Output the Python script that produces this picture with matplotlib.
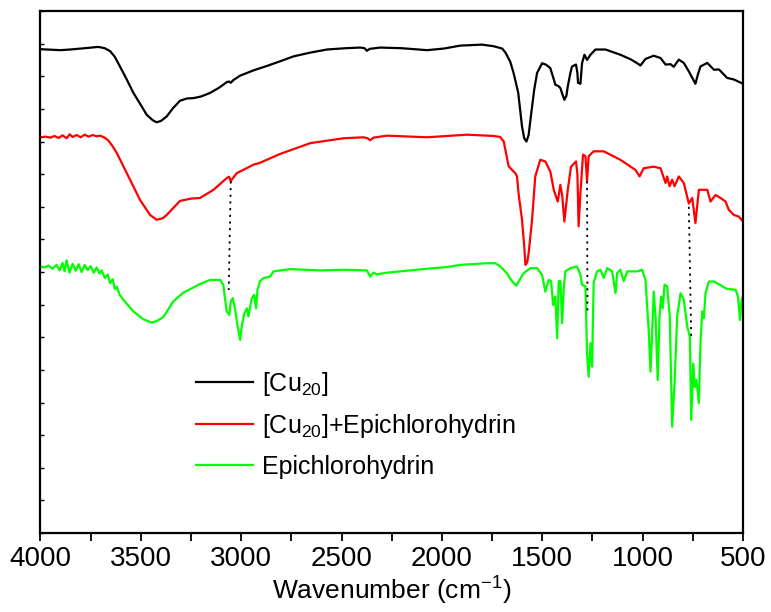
import matplotlib
matplotlib.use('AGG')
import matplotlib.pyplot as plt
from matplotlib.ticker import MultipleLocator

# FTIR spectra, offset transmittance (a.u.)
black_wn = [4000, 3900, 3853, 3780, 3712, 3680, 3653, 3630, 3604, 3570, 3537, 3500, 3471, 3440, 3421, 3400,
            3371, 3340, 3305, 3270, 3238, 3200, 3155, 3110, 3072, 3060, 3052, 3040, 3005, 2939, 2870, 2806,
            2739, 2660, 2573, 2480, 2407, 2385, 2374, 2360, 2307, 2200, 2074, 1990, 1908, 1800, 1742, 1700,
            1684, 1660, 1643, 1620, 1601, 1590, 1579, 1568, 1559, 1540, 1526, 1501, 1480, 1460, 1445, 1435,
            1420, 1410, 1400, 1390, 1380, 1373, 1360, 1352, 1332, 1325, 1322, 1310, 1302, 1290, 1277, 1260,
            1235, 1185, 1111, 1060, 1027, 1011, 986, 945, 911, 886, 861, 845, 820, 795, 770, 750, 737, 725,
            712, 678, 645, 620, 579, 545, 500]
black_t = [14.83, 14.80, 14.82, 14.86, 14.90, 14.86, 14.77, 14.60, 14.30, 13.90, 13.49, 13.12, 12.82, 12.65,
           12.59, 12.63, 12.77, 13.02, 13.25, 13.32, 13.33, 13.38, 13.49, 13.65, 13.82, 13.84, 13.80, 13.88,
           14.02, 14.18, 14.32, 14.46, 14.61, 14.72, 14.82, 14.86, 14.88, 14.86, 14.78, 14.84, 14.88, 14.86,
           14.80, 14.85, 14.94, 14.97, 14.92, 14.85, 14.73, 14.45, 14.10, 13.50, 12.46, 12.10, 12.00, 12.20,
           12.67, 13.60, 14.10, 14.40, 14.35, 14.25, 13.95, 13.74, 13.70, 13.64, 13.45, 13.28, 13.40, 13.69,
           14.10, 14.30, 14.36, 14.10, 13.80, 13.77, 14.40, 14.66, 14.50, 14.66, 14.82, 14.82, 14.66, 14.52,
           14.40, 14.33, 14.53, 14.63, 14.56, 14.36, 14.37, 14.29, 14.51, 14.41, 14.15, 13.92, 13.77, 14.05,
           14.30, 14.41, 14.20, 14.21, 13.95, 13.90, 13.77]

red_wn = [4000, 3975, 3950, 3930, 3910, 3890, 3870, 3855, 3840, 3820, 3800, 3780, 3760, 3740, 3720, 3703,
          3680, 3662, 3640, 3620, 3570, 3504, 3454, 3421, 3390, 3371, 3305, 3250, 3205, 3138, 3072, 3060,
          3052, 3045, 3022, 2939, 2906, 2806, 2656, 2490, 2391, 2370, 2357, 2340, 2274, 2074, 1875, 1742,
          1710, 1692, 1668, 1651, 1634, 1626, 1618, 1601, 1590, 1584, 1575, 1568, 1551, 1535, 1510, 1485,
          1460, 1443, 1423, 1410, 1400, 1390, 1373, 1357, 1332, 1325, 1319, 1310, 1297, 1285, 1277, 1269,
          1244, 1194, 1111, 1036, 1015, 995, 945, 911, 886, 878, 866, 853, 841, 820, 795, 770, 753, 737,
          720, 678, 662, 637, 612, 587, 571, 546, 521, 500]
red_t = [12.13, 12.15, 12.12, 12.17, 12.11, 12.19, 12.10, 12.22, 12.14, 12.20, 12.13, 12.21, 12.15, 12.20,
         12.16, 12.18, 12.12, 12.03, 11.85, 11.65, 11.03, 10.21, 9.75, 9.60, 9.65, 9.75, 10.18, 10.25, 10.27,
         10.52, 10.88, 10.92, 10.78, 10.85, 11.03, 11.29, 11.35, 11.62, 11.95, 12.10, 12.13, 12.10, 12.04,
         12.12, 12.18, 12.13, 12.21, 12.17, 12.14, 12.00, 11.25, 11.13, 11.03, 10.93, 10.40, 9.60, 8.80,
         8.22, 8.30, 8.58, 9.60, 10.93, 11.44, 11.39, 11.08, 10.52, 10.16, 10.67, 10.30, 9.55, 10.52, 11.23,
         11.39, 11.00, 9.40, 10.42, 11.60, 11.55, 10.78, 11.55, 11.70, 11.70, 11.44, 11.13, 10.93, 11.18,
         11.23, 11.18, 10.73, 10.93, 10.63, 10.83, 10.63, 10.93, 10.73, 10.10, 10.27, 9.50, 10.52, 10.52,
         10.16, 10.36, 10.27, 10.16, 9.91, 9.75, 9.70, 9.55]

green_wn = [4000, 3980, 3960, 3940, 3920, 3905, 3890, 3880, 3870, 3855, 3840, 3825, 3810, 3795, 3780, 3765,
            3750, 3735, 3720, 3705, 3695, 3680, 3665, 3653, 3640, 3630, 3620, 3605, 3587, 3537, 3487, 3446,
            3420, 3388, 3338, 3288, 3205, 3155, 3105, 3089, 3080, 3072, 3059, 3052, 3042, 3030, 3019, 3005,
            2997, 2985, 2972, 2964, 2947, 2935, 2926, 2919, 2906, 2889, 2872, 2856, 2839, 2806, 2756, 2606,
            2490, 2374, 2357, 2341, 2324, 2274, 2158, 2042, 1975, 1908, 1775, 1734, 1709, 1676, 1660, 1643,
            1629, 1609, 1593, 1575, 1559, 1526, 1501, 1485, 1468, 1456, 1446, 1435, 1426, 1418, 1410, 1401,
            1393, 1385, 1360, 1327, 1310, 1302, 1285, 1277, 1269, 1260, 1252, 1244, 1227, 1210, 1194, 1177,
            1152, 1135, 1127, 1111, 1094, 1077, 1027, 1002, 986, 969, 961, 953, 945, 936, 925, 916, 908, 900,
            891, 878, 865, 853, 841, 828, 811, 795, 778, 765, 758, 748, 740, 732, 720, 712, 703, 695, 687,
            670, 645, 579, 537, 525, 515, 507, 500]
green_t = [8.17, 8.14, 8.20, 8.10, 8.22, 8.05, 8.28, 8.02, 8.36, 7.98, 8.25, 8.04, 8.24, 8.00, 8.22, 8.06,
           8.18, 7.98, 8.14, 7.95, 8.05, 7.82, 7.92, 7.66, 7.78, 7.48, 7.55, 7.30, 7.15, 6.79, 6.55, 6.45,
           6.50, 6.62, 7.10, 7.37, 7.63, 7.76, 7.76, 7.60, 7.15, 6.79, 6.69, 7.10, 7.20, 6.84, 6.38, 5.92,
           6.34, 6.72, 6.89, 6.64, 7.20, 7.30, 6.89, 7.45, 7.72, 7.81, 7.84, 7.86, 8.02, 8.05, 8.09, 8.05,
           8.07, 8.05, 7.86, 7.98, 7.93, 7.98, 8.05, 8.12, 8.15, 8.22, 8.27, 8.27, 8.17, 7.96, 7.80, 7.66,
           7.58, 7.80, 7.96, 8.05, 8.12, 8.12, 7.91, 7.40, 7.76, 7.72, 6.99, 7.25, 5.97, 7.72, 7.72, 6.43,
           7.51, 8.02, 8.12, 8.17, 7.91, 7.61, 7.56, 5.51, 4.79, 5.82, 5.10, 7.67, 8.02, 8.07, 7.82, 8.12,
           8.02, 7.35, 7.97, 8.07, 7.72, 8.02, 8.02, 8.07, 7.76, 6.12, 4.95, 6.12, 7.40, 6.64, 4.69, 6.64,
           7.25, 6.89, 7.61, 7.56, 6.64, 3.26, 4.59, 6.64, 7.35, 7.15, 6.33, 6.02, 3.47, 5.20, 4.48, 4.69,
           3.98, 5.82, 6.79, 6.59, 7.35, 7.71, 7.71, 7.48, 7.46, 7.25, 6.53, 7.15, 7.25]

# dotted guide lines: (wn top, t top, wn bottom, t bottom)
guides = [(3052, 10.78, 3062, 7.45), (1277, 10.78, 1275, 6.74), (770, 10.0, 758, 5.98)]

labels = [r'[Cu$_{\mathregular{20}}$]', r'[Cu$_{\mathregular{20}}$]+Epichlorohydrin', 'Epichlorohydrin']
colors = ['black', 'red', '#00ff00']

plt.rcParams['font.family'] = ['Liberation Sans', 'DejaVu Sans']
plt.rcParams['mathtext.fontset'] = 'custom'
plt.rcParams['mathtext.rm'] = 'Liberation Sans'

fig = plt.figure(figsize=(7.71, 6.12), dpi=100)
ax = fig.add_axes([0.0525, 0.129, 0.9112, 0.853])

for wn, t, lab, c in zip([black_wn, red_wn, green_wn], [black_t, red_t, green_t], labels, colors):
    ax.plot(wn, t, color=c, lw=1.6, label=lab)

for x1, y1, x2, y2 in guides:
    ax.plot([x1, x2], [y1, y2], color='black', lw=1.3, ls=(0, (1.2, 2.5)))

ax.set_xlim(4000, 500)
ax.set_ylim(0, 16)
ax.xaxis.set_major_locator(MultipleLocator(500))
ax.xaxis.set_minor_locator(MultipleLocator(250))
ax.yaxis.set_major_locator(MultipleLocator(1))
ax.set_yticklabels([])
ax.tick_params(axis='x', which='both', direction='out', length=6, width=1.3, labelsize=20, pad=3)
ax.tick_params(axis='y', direction='in', length=3, width=1.0)
for s in ax.spines.values():
    s.set_linewidth(1.6)
ax.set_xlabel('Wavenumber (cm$^{\\mathregular{-1}}$)', fontsize=19, labelpad=1)

ax.legend(loc='upper left', bbox_to_anchor=(0.207, 0.332), frameon=False, fontsize=18,
          handlelength=2.3, labelspacing=0.58, handletextpad=0.35, borderaxespad=0)

plt.savefig('out.png', dpi=100)
plt.close()
